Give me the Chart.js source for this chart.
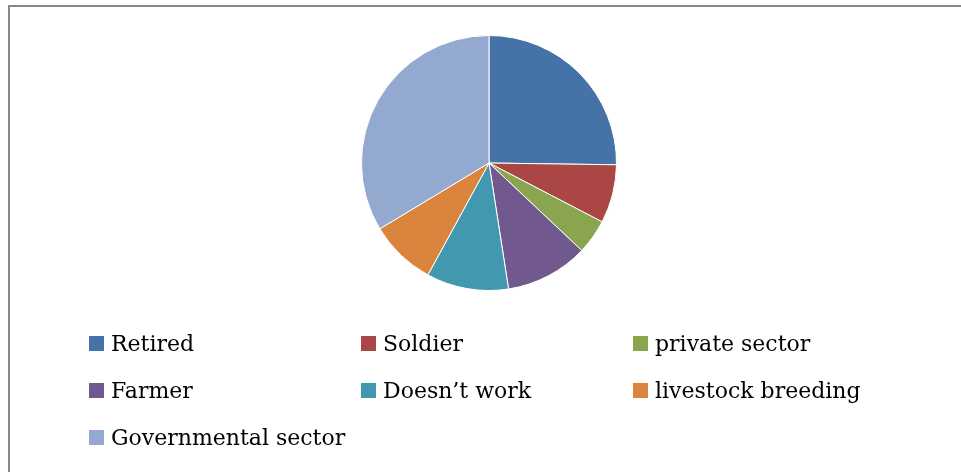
<!DOCTYPE html>
<html>
<head>
<meta charset="utf-8">
<script src="https://cdn.jsdelivr.net/npm/chart.js@4/dist/chart.umd.min.js"></script>
<style>
  html, body { margin: 0; padding: 0; background: #fff; overflow: hidden; }
  #wrap { position: relative; width: 961px; height: 472px; overflow: hidden; }
  #frame {
    position: absolute; left: 8px; top: 5px; width: 1000px; height: 500px;
    border-top: 2px solid #878787; border-left: 2px solid #878787;
  }
  #pie { position: absolute; left: 0; top: 0; }
  .item { position: absolute; height: 30px; display: flex; align-items: center; white-space: nowrap; }
  .box { width: 15px; height: 15px; margin-right: 7px; flex: none; }
  .lbl { font-family: "DejaVu Serif", serif; font-size: 22px; color: #000; }
</style>
</head>
<body>
<div id="wrap">
  <div id="frame"></div>
  <canvas id="pie" width="961" height="472"></canvas>
  <div id="legend"></div>
</div>
<script>
// Pie data (percent of respondents)
const labels = ["Retired", "Soldier", "private sector", "Farmer", "Doesn\u2019t work", "livestock breeding", "Governmental sector"];
const values = [25.2, 7.4, 4.4, 10.5, 10.4, 8.4, 33.6];
const colors = ["#4572A7", "#AA4643", "#89A54E", "#71588F", "#4198AF", "#DB843D", "#93A9CF"];

// legend grid: 3 columns
const colX = [89, 361, 633];
const rowY = [343.5, 390.5, 437.5];

const legend = document.getElementById("legend");
labels.forEach(function (l, i) {
  const d = document.createElement("div");
  d.className = "item";
  d.style.left = colX[i % 3] + "px";
  d.style.top = (rowY[Math.floor(i / 3)] - 15) + "px";
  d.innerHTML = '<span class="box" style="background:' + colors[i] + '"></span><span class="lbl"></span>';
  d.querySelector(".lbl").textContent = l;
  legend.appendChild(d);
});

const ctx = document.getElementById("pie").getContext("2d");
const pieChart = new Chart(ctx, {
  type: "pie",
  data: {
    labels: labels,
    datasets: [
      {
        data: values,
        backgroundColor: colors,
        borderColor: "#ffffff",
        borderWidth: 1,
      },
    ],
  },
  options: {
    responsive: false,
    animation: false,
    layout: {
      padding: { left: 361, right: 344, top: 35, bottom: 181 },
    },
    plugins: {
      legend: { display: false },
      tooltip: { enabled: false },
    },
  },
});
</script>
</body>
</html>
